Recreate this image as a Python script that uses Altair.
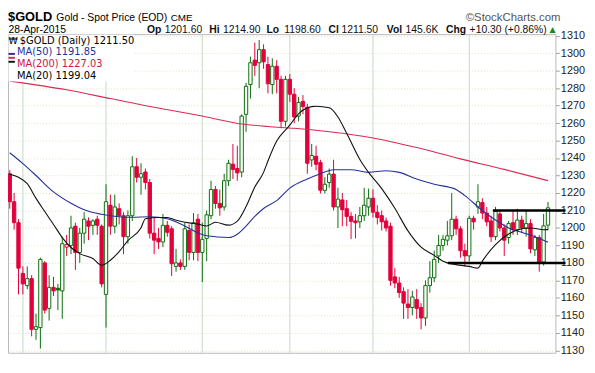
import altair as alt
import pandas as pd

# ---------------- data (trading-day index, 0 = 3 Nov 2014) ----------------
day_idx = list(range(-3, 121))
opens = [1231, 1215, 1203,
         1174, 1167, 1171, 1142, 1143, 1180, 1154, 1166, 1165.5, 1164,
         1189, 1190, 1201, 1186, 1197, 1204, 1201.5, 1205, 1201, 1162,
         1213, 1201, 1211, 1207, 1195, 1207, 1235, 1229, 1232, 1226,
         1197, 1194, 1192, 1201.5, 1199.5, 1178, 1180, 1178, 1198.5, 1186,
         1205, 1186, 1194, 1207, 1222, 1214, 1212, 1227, 1236.5, 1234,
         1232, 1265, 1282, 1296, 1294.5, 1302, 1293.5, 1282, 1292.5, 1285,
         1261, 1285, 1276.5, 1264, 1272.4, 1269, 1238.9, 1241, 1237.4, 1221.5,
         1226, 1230.8, 1212, 1216, 1211, 1206.6, 1204, 1203.5, 1207, 1212,
         1217, 1209, 1207, 1204, 1201, 1172, 1168.5, 1163.5, 1156.5, 1154.5,
         1159, 1154.5, 1148.5, 1167, 1171.5, 1184, 1190, 1193, 1195.5, 1205,
         1199.5, 1187, 1184, 1205.5, 1212, 1214.5, 1208.5, 1204, 1195, 1208,
         1200, 1194.5, 1203, 1199, 1204.5, 1200, 1202.5, 1187.5, 1194.5, 1180.5, 1201.6]
highs = [1233, 1220, 1205,
         1178, 1178, 1173, 1151, 1183, 1181, 1173, 1172, 1168, 1195,
         1196, 1207, 1203, 1200, 1209, 1206, 1205, 1207, 1202, 1225,
         1219, 1219, 1214, 1209, 1210, 1241, 1240, 1237, 1234, 1228,
         1206, 1200, 1208, 1204, 1201, 1188, 1182, 1203, 1202, 1208.5,
         1208, 1203, 1210, 1227, 1224, 1222, 1231, 1239, 1248, 1247,
         1265, 1283, 1298, 1306, 1307.5, 1305, 1298, 1297, 1296, 1287,
         1287, 1288, 1280, 1275, 1276, 1271, 1248, 1247, 1239, 1229,
         1234, 1239, 1223, 1220, 1216, 1209, 1208, 1212, 1223, 1222.5,
         1222, 1213, 1210, 1206, 1203, 1177, 1172, 1166, 1165, 1164,
         1165, 1157, 1170, 1181, 1187, 1196, 1196, 1204, 1220, 1207,
         1201, 1191, 1207, 1207, 1225, 1217, 1212, 1207, 1212, 1210,
         1202, 1204, 1209.5, 1211, 1207, 1210, 1205, 1196, 1196, 1208, 1214.9]
lows = [1211, 1199, 1162,
        1162, 1165, 1138, 1136, 1131, 1151, 1147, 1161, 1153, 1148,
        1184, 1185, 1176, 1180, 1191, 1193, 1196, 1196, 1166, 1143,
        1196, 1197, 1202, 1185, 1191, 1204, 1226, 1219, 1222, 1194,
        1185, 1188, 1189, 1195, 1172.5, 1175, 1176, 1176, 1181.5, 1181.5,
        1181, 1169, 1181, 1205, 1211, 1207, 1210, 1224, 1228, 1227,
        1229, 1255, 1274, 1287, 1280, 1291, 1277, 1276.5, 1277, 1257,
        1258, 1272, 1260, 1261, 1265, 1231, 1235, 1233, 1219.7, 1219.7,
        1223, 1210, 1200, 1201, 1201, 1193.6, 1194, 1200, 1204, 1207,
        1206, 1202, 1198.5, 1198, 1167, 1165.5, 1160, 1148, 1148, 1150,
        1148, 1142, 1144, 1163, 1169, 1180, 1187, 1190, 1193, 1196,
        1183, 1178, 1181, 1199, 1208, 1205, 1201, 1192, 1193, 1198,
        1184, 1191, 1196, 1196, 1197, 1195, 1185.5, 1184, 1175, 1178.5, 1198.6]
closes = [1215, 1203, 1177,
          1168, 1171, 1142, 1143.5, 1182, 1153, 1166, 1164, 1164.5, 1191,
          1190.5, 1200, 1186, 1197, 1205, 1201, 1204, 1201.5, 1168, 1215,
          1201, 1212, 1207, 1195, 1207, 1235, 1229, 1231, 1226, 1197,
          1193, 1192, 1201.5, 1197.5, 1179.5, 1180, 1178, 1199.5, 1186, 1203,
          1186, 1193.5, 1207.5, 1222, 1214, 1211.5, 1227, 1237, 1233.5, 1231.5,
          1264, 1281, 1294.5, 1293, 1302, 1295, 1282.5, 1292.5, 1285, 1261,
          1285, 1276.5, 1263.5, 1271.8, 1269.4, 1237, 1241.5, 1236.4, 1221.6, 1225,
          1230.8, 1212, 1216.5, 1210.4, 1206.6, 1203.8, 1203, 1207, 1213, 1217,
          1209, 1206, 1203.5, 1200, 1170, 1168.5, 1163, 1157, 1154.5, 1160.5,
          1154, 1148.5, 1167, 1171.5, 1182, 1190, 1193.5, 1195.5, 1205, 1199.5,
          1187, 1184, 1205.5, 1203.5, 1215, 1208.5, 1203.5, 1195, 1209.5, 1200,
          1193, 1202.5, 1199, 1204.5, 1200, 1202.5, 1188, 1194.5, 1180.5, 1201.2, 1211.5]

# moving averages (trading-day index, value)
ma20_idx = [-3, -1, 1, 3, 5, 7, 9, 11, 13, 16, 18, 20, 22, 24, 27, 28, 31, 33, 35, 38,
            40, 42, 44, 47, 49, 51, 53, 55, 56, 58, 61, 63, 66, 67, 70, 72, 74, 77, 79,
            82, 85, 88, 91, 94, 96, 99, 102, 104, 105, 108, 111, 114, 116, 119, 120]
ma20_val = [1230.7, 1229, 1225.3, 1216.9, 1209.4, 1202, 1194.5, 1188.8, 1185.3, 1182.5,
            1178.7, 1181.5, 1186.5, 1192.7, 1200.1, 1205.3, 1206, 1206, 1204.4, 1202.9,
            1202.2, 1201.1, 1203.3, 1201.6, 1203.9, 1212.2, 1223.4, 1231.8, 1238.3, 1249.7,
            1258.8, 1265.3, 1269.4, 1269.6, 1268.7, 1263.5, 1254.1, 1239.2, 1231.8, 1222.5,
            1211.3, 1198.3, 1189, 1184.3, 1181, 1179, 1178, 1177, 1181, 1190.5,
            1196.5, 1199.5, 1200, 1199, 1199.04]
ma50_idx = [-3, 0, 3, 7, 11, 14, 18, 22, 25, 29, 33, 37, 40, 42, 47, 49, 51, 53, 55, 58,
            61, 65, 68, 71, 75, 79, 83, 86, 90, 94, 99, 101, 105, 108, 111, 114, 118, 120]
ma50_val = [1243, 1236.8, 1230, 1220.6, 1214.1, 1210.4, 1207.8, 1206.4, 1206.1, 1206.4,
            1205.3, 1201.1, 1197.2, 1195.5, 1194.5, 1196.4, 1201.1, 1206.6, 1211.1, 1215.6,
            1222.8, 1228, 1231, 1233.3, 1233.3, 1231.8, 1232.7, 1231.8, 1228, 1225,
            1222, 1218.5, 1210, 1204.5, 1200, 1197.5, 1194, 1191.85]
ma200_idx = [-3, 10, 20, 30, 40, 50, 56, 62, 70, 80, 90, 100, 110, 120]
ma200_val = [1284, 1279, 1274, 1269, 1264.5, 1259.5, 1258, 1257, 1255, 1251.5,
             1246, 1239.5, 1233.5, 1227.03]

tick_idx = [0, 5, 10, 15, 19, 24, 29, 34, 41, 47, 52, 56, 61, 66, 71, 75, 80, 85, 90, 95,
            102, 109, 114, 119]
tick_lab = ["Nov", "10", "17", "24", "Dec", "8", "15", "22", "2015", "12", "20", "26",
            "Feb", "9", "17", "23", "Mar", "9", "16", "23", "Apr", "13", "20", "27"]
month_idx = [0, 19, 41, 61, 80, 102]

level_val = [1210, 1180]
level_from = [107.4, 97.1]
level_to = [124, 124]

# ---------------- frame ----------------
UP, DOWN = "#0a6e0a", "#e2003c"
W, H = 555, 323
xsc = alt.Scale(domain=[-3.4, 121.7], nice=False, zero=False)
ysc = alt.Scale(domain=[1128.6, 1310.85], nice=False, zero=False)
FONT = "Liberation Sans"

prev = [opens[0]] + closes[:-1]
df = pd.DataFrame({"i": day_idx, "o": opens, "h": highs, "l": lows, "c": closes, "p": prev})
df["dir"] = ["up" if c >= p else "down" for c, p in zip(df.c, df.p)]
df["fk"] = ["hollow" if c > o else d for c, o, d in zip(df.c, df.o, df.dir)]
df["bt"] = df[["o", "c"]].max(axis=1)
df["bb"] = [min(b, t - 0.5) for b, t in zip(df[["o", "c"]].min(axis=1), df.bt)]
df["xl"] = df.i - 0.38
df["xr"] = df.i + 0.38

stroke_scale = alt.Scale(domain=["up", "down"], range=[UP, DOWN])
fill_scale = alt.Scale(domain=["up", "down", "hollow"], range=[UP, DOWN, "white"])

label_expr = "[" + ",".join("'%s'" % s for s in tick_lab) + "][indexof([" + \
    ",".join(str(v) for v in tick_idx) + "], datum.value)]"
bold_test = "indexof([" + ",".join(str(v) for v in month_idx) + "], datum.value) >= 0"

x_axis = alt.Axis(values=tick_idx, labelExpr=label_expr, grid=True, gridColor="#e2e2c4",
                  gridDash=[1, 2], tickSize=3, tickColor="#b0b0b0", labelFontSize=11,
                  labelFont=FONT, labelColor="#111", labelPadding=2, labelOverlap=False,
                  labelFlush=False, domain=False, title=None,
                  labelFontWeight={"condition": {"test": bold_test, "value": "bold"},
                                   "value": "normal"})
y_axis = alt.Axis(orient="right", values=list(range(1130, 1311, 10)), format="d", grid=True,
                  gridColor="#e2e2c4", gridDash=[1, 2], tickSize=4, tickColor="#a0a0a0",
                  labelFontSize=11, labelFont=FONT, labelColor="#222", labelPadding=1,
                  domain=False, title=None)

months = alt.Chart(pd.DataFrame({"m": month_idx})).mark_rule(
    color="#c3d9c3", strokeWidth=1).encode(x=alt.X("m:Q", scale=xsc, axis=None))

wicks = alt.Chart(df).mark_rule(strokeWidth=1).encode(
    x=alt.X("i:Q", scale=xsc, axis=x_axis),
    y=alt.Y("l:Q", scale=ysc, axis=y_axis),
    y2="h:Q",
    color=alt.Color("dir:N", scale=stroke_scale, legend=None))

bodies = alt.Chart(df).mark_bar(strokeWidth=1).encode(
    x=alt.X("xl:Q", scale=xsc, axis=None), x2="xr:Q",
    y=alt.Y("bb:Q", scale=ysc, axis=None), y2="bt:Q",
    fill=alt.Fill("fk:N", scale=fill_scale, legend=None),
    stroke=alt.Stroke("dir:N", scale=stroke_scale, legend=None))


def ma_line(idx, vals, color, width=1.1):
    d = pd.DataFrame({"i": idx, "v": vals})
    return alt.Chart(d).mark_line(color=color, strokeWidth=width, interpolate="monotone").encode(
        x=alt.X("i:Q", scale=xsc, axis=None), y=alt.Y("v:Q", scale=ysc, axis=None))


ma200 = ma_line(ma200_idx, ma200_val, "#dc2a55")
ma50 = ma_line(ma50_idx, ma50_val, "#26309c")
ma20 = ma_line(ma20_idx, ma20_val, "#111111")

levels = alt.Chart(pd.DataFrame({"v": level_val, "a": level_from, "b": level_to})).mark_rule(
    color="black", strokeWidth=2.5).encode(
    x=alt.X("a:Q", scale=xsc, axis=None), x2="b:Q", y=alt.Y("v:Q", scale=ysc, axis=None))


def txt(s, x, y, size=11, weight="normal", color="#111", font=FONT, align="left"):
    return alt.Chart(pd.DataFrame({"t": [s]})).mark_text(
        align=align, baseline="alphabetic", fontSize=size, fontWeight=weight,
        color=color, font=font).encode(x=alt.value(x), y=alt.value(y), text="t:N")


LY = [9.5, 21.5, 33.5, 45.5]
legend_bg = alt.Chart(pd.DataFrame({"t": [0]})).mark_rect(color="white").encode(
    x=alt.value(0.5), x2=alt.value(128), y=alt.value(0.5), y2=alt.value(48))
icon = alt.Chart(pd.DataFrame({"t": [0]})).mark_text(
    text="₩", fontSize=9.5, font="DejaVu Sans", color="black", align="left",
    baseline="alphabetic").encode(x=alt.value(0.5), y=alt.value(LY[0]))
swatches = alt.Chart(pd.DataFrame({"c": ["#26309c", "#dc2a55", "#111111"],
                                   "k": ["a", "b", "c"]})).mark_rule(strokeWidth=2).encode(
    x=alt.value(0.5), x2=alt.value(7),
    y=alt.Y("k:N", scale=alt.Scale(domain=["a", "b", "c"],
                                   range=[LY[1] - 3.5, LY[2] - 3.5, LY[3] - 3.5]), axis=None),
    color=alt.Color("c:N", scale=None))

LF = "DejaVu Sans"
RY1, RY2 = -13.5, -1.5
layers = [months, wicks, bodies, ma200, ma50, ma20, levels, legend_bg, icon, swatches,
          txt("$GOLD (Daily) 1211.50", 12, LY[0], 10, font=LF, color="#000"),
          txt("MA(50) 1191.85", 9, LY[1], 10, font=LF, color="#26309c"),
          txt("MA(200) 1227.03", 9, LY[2], 10, font=LF, color="#d0143f"),
          txt("MA(20) 1199.04", 9, LY[3], 10, font=LF, color="#000"),
          # header
          txt("$GOLD", 0, RY1, 13, "bold", "#000"),
          txt("Gold - Spot Price (EOD)", 49, RY1, 10.5, color="#000"),
          txt("CME", 165, RY1, 10, color="#000"),
          txt("©StockCharts.com", 560, RY1, 11.5, color="#555", align="right"),
          txt("28-Apr-2015", 0.5, RY2, 10.5, color="#000"),
          txt("Op", 141, RY2, 10.5, "bold"), txt("1201.60", 159, RY2, 10.5),
          txt("Hi", 204, RY2, 10.5, "bold"), txt("1214.90", 218, RY2, 10.5),
          txt("Lo", 262, RY2, 10.5, "bold"), txt("1198.60", 280, RY2, 10.5),
          txt("Cl", 325, RY2, 10.5, "bold"), txt("1211.50", 338, RY2, 10.5),
          txt("Vol", 384, RY2, 10.5, "bold"), txt("145.6K", 403, RY2, 10.5),
          txt("Chg", 444, RY2, 10.5, "bold"), txt("+10.30 (+0.86%)", 468, RY2, 10.5),
          txt("▲", 549, RY2 - 0.5, 8, color="#1a8a1a", font="DejaVu Sans")]

chart = alt.layer(*layers).properties(
    width=W, height=H, autosize="none",
    padding={"left": 0, "top": 24, "right": 32, "bottom": 18},
    background="white"
).configure_view(stroke="#b8b8b8", strokeWidth=1)

chart.save("out.html", embed_options={"renderer": "svg", "actions": False})
